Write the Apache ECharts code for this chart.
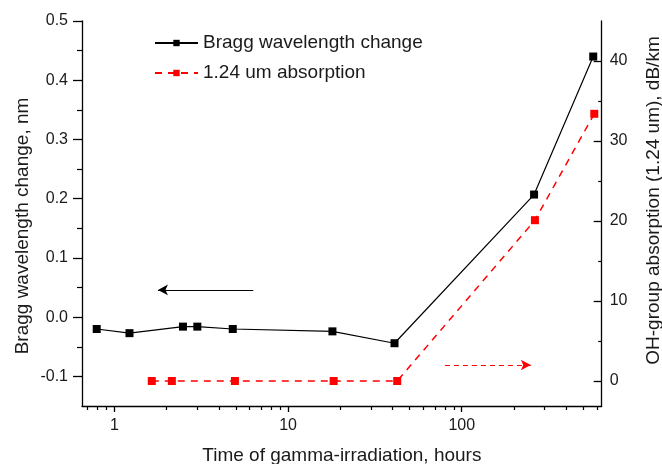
<!DOCTYPE html>
<html>
<head>
<meta charset="utf-8">
<script src="https://cdn.jsdelivr.net/npm/echarts@6/dist/echarts.min.js"></script>
<style>html,body{margin:0;padding:0;background:#fff}#c{width:662px;height:464px}</style>
</head>
<body>
<div id="c"></div>
<script>
// ---- data ----
const timeBragg = [0.79, 1.22, 2.48, 3.0, 4.8, 18, 41, 261, 572];
const braggShift = [-0.020, -0.027, -0.016, -0.016, -0.020, -0.024, -0.044, 0.207, 0.440];
const timeAbs = [1.64, 2.14, 4.94, 18.3, 42.5, 264, 580];
const absorption = [0, 0, 0, 0, 0, 20.1, 33.4];

const xMajorTicks = [1, 10, 100];
const xMinorTicks = [0.7, 0.8, 0.9, 2, 3, 4, 5, 6, 7, 8, 9, 20, 30, 40, 50, 60, 70, 80, 90, 200, 300, 400, 500, 600];
const leftMajorTicks = [-0.1, 0.0, 0.1, 0.2, 0.3, 0.4, 0.5];
const leftMinorTicks = [-0.05, 0.05, 0.15, 0.25, 0.35, 0.45];
const rightMajorTicks = [0, 10, 20, 30, 40];
const rightMinorTicks = [5, 15, 25, 35];

const braggArrow = { fromTime: 6.3, toTime: 1.78, level: 0.046 };
const absArrow = { fromTime: 80, toTime: 250, level: 2.0 };

const seriesNames = ['Bragg wavelength change', '1.24 um absorption'];
// --------------------------------------

const FONT = '"Liberation Sans", Arial, sans-serif';
const TXT = '#1a1a1a';
const X_MIN = 0.65, X_MAX = 640;
const L_MIN = -0.15, L_MAX = 0.5;
const R_MIN = -3.125, R_MAX = 45;

const chart = echarts.init(document.getElementById('c'), null, { renderer: 'canvas' });

const axisLine = { show: true, onZero: false, lineStyle: { color: '#000', width: 1.3 } };

const option = {
  animation: false,
  backgroundColor: '#fff',
  grid: { left: 82, right: 60.3, top: 21, bottom: 58, containLabel: false, outerBoundsMode: 'none' },
  legend: {
    orient: 'vertical',
    left: 149,
    top: 28,
    itemWidth: 43,
    itemHeight: 8,
    itemGap: 10,
    textStyle: { fontFamily: FONT, fontSize: 19, color: TXT, lineHeight: 20 },
    data: seriesNames
  },
  xAxis: [
    {
      type: 'log', logBase: 10, min: X_MIN, max: X_MAX, position: 'bottom',
      name: 'Time of gamma-irradiation, hours', nameLocation: 'middle', nameGap: 40,
      nameMoveOverlap: false,
      nameTextStyle: { fontFamily: FONT, fontSize: 19, color: TXT },
      axisLine: axisLine,
      axisTick: { show: true, inside: false, length: 6, customValues: xMajorTicks, lineStyle: { color: '#000', width: 1.3 } },
      axisLabel: { show: true, margin: 12, customValues: xMajorTicks, fontFamily: FONT, fontSize: 16, color: TXT, formatter: v => String(Math.round(v)) },
      splitLine: { show: false }, minorTick: { show: false }
    },
    {
      type: 'log', logBase: 10, min: X_MIN, max: X_MAX, position: 'bottom',
      axisLine: { show: false, onZero: false },
      axisTick: { show: true, inside: false, length: 4, customValues: xMinorTicks, lineStyle: { color: '#000', width: 1.2 } },
      axisLabel: { show: false },
      splitLine: { show: false }
    }
  ],
  yAxis: [
    {
      type: 'value', min: L_MIN, max: L_MAX, position: 'left',
      name: 'Bragg wavelength change, nm', nameLocation: 'middle', nameGap: 50,
      nameMoveOverlap: false,
      nameTextStyle: { fontFamily: FONT, fontSize: 19, color: TXT, padding: [0, 25, 0, 0] },
      axisLine: axisLine,
      axisTick: { show: true, inside: false, length: 9, customValues: leftMajorTicks, lineStyle: { color: '#000', width: 1.3 } },
      axisLabel: { show: true, margin: 14, customValues: leftMajorTicks, fontFamily: FONT, fontSize: 16, color: TXT, formatter: v => v.toFixed(1) },
      splitLine: { show: false }
    },
    {
      type: 'value', min: R_MIN, max: R_MAX, position: 'right',
      name: 'OH-group absorption (1.24 um), dB/km', nameLocation: 'middle', nameGap: 43,
      nameMoveOverlap: false,
      nameTextStyle: { fontFamily: FONT, fontSize: 19, color: TXT, padding: [0, 0, 0, 26] },
      axisLine: axisLine,
      axisTick: { show: true, inside: true, length: 8, customValues: rightMajorTicks, lineStyle: { color: '#000', width: 1.3 } },
      axisLabel: { show: true, margin: 8, customValues: rightMajorTicks, fontFamily: FONT, fontSize: 16, color: TXT, formatter: v => String(Math.round(v)) },
      splitLine: { show: false }
    },
    {
      type: 'value', min: L_MIN, max: L_MAX, position: 'left',
      axisLine: { show: false, onZero: false },
      axisTick: { show: true, inside: false, length: 5, customValues: leftMinorTicks, lineStyle: { color: '#000', width: 1.2 } },
      axisLabel: { show: false }, splitLine: { show: false }
    },
    {
      type: 'value', min: R_MIN, max: R_MAX, position: 'right',
      axisLine: { show: false, onZero: false },
      axisTick: { show: true, inside: true, length: 3.5, customValues: rightMinorTicks, lineStyle: { color: '#000', width: 1.2 } },
      axisLabel: { show: false }, splitLine: { show: false }
    }
  ],
  series: [
    {
      name: seriesNames[0], type: 'line', xAxisIndex: 0, yAxisIndex: 0,
      data: timeBragg.map((t, i) => [t, braggShift[i]]),
      symbol: 'rect', symbolSize: 8,
      itemStyle: { color: '#000' },
      lineStyle: { color: '#000', width: 1.2, type: 'solid' },
      z: 3,
      markLine: {
        silent: true, symbol: ['none', 'arrow'], symbolSize: [8, 10],
        label: { show: false },
        lineStyle: { color: '#000', width: 1, type: 'solid' },
        data: [[{ coord: [braggArrow.fromTime, braggArrow.level] }, { coord: [braggArrow.toTime, braggArrow.level] }]]
      }
    },
    {
      name: seriesNames[1], type: 'line', xAxisIndex: 0, yAxisIndex: 1,
      data: timeAbs.map((t, i) => [t, absorption[i]]),
      symbol: 'rect', symbolSize: 8,
      itemStyle: { color: '#ff0000' },
      lineStyle: { color: '#ff0000', width: 1.5, type: [7, 6] },
      z: 2,
      markLine: {
        silent: true, symbol: ['none', 'arrow'], symbolSize: [8, 10],
        label: { show: false },
        lineStyle: { color: '#ff0000', width: 1.2, type: [5, 4] },
        data: [[{ coord: [absArrow.fromTime, absArrow.level] }, { coord: [absArrow.toTime, absArrow.level] }]]
      }
    }
  ]
};
chart.setOption(option);
</script>
</body>
</html>
